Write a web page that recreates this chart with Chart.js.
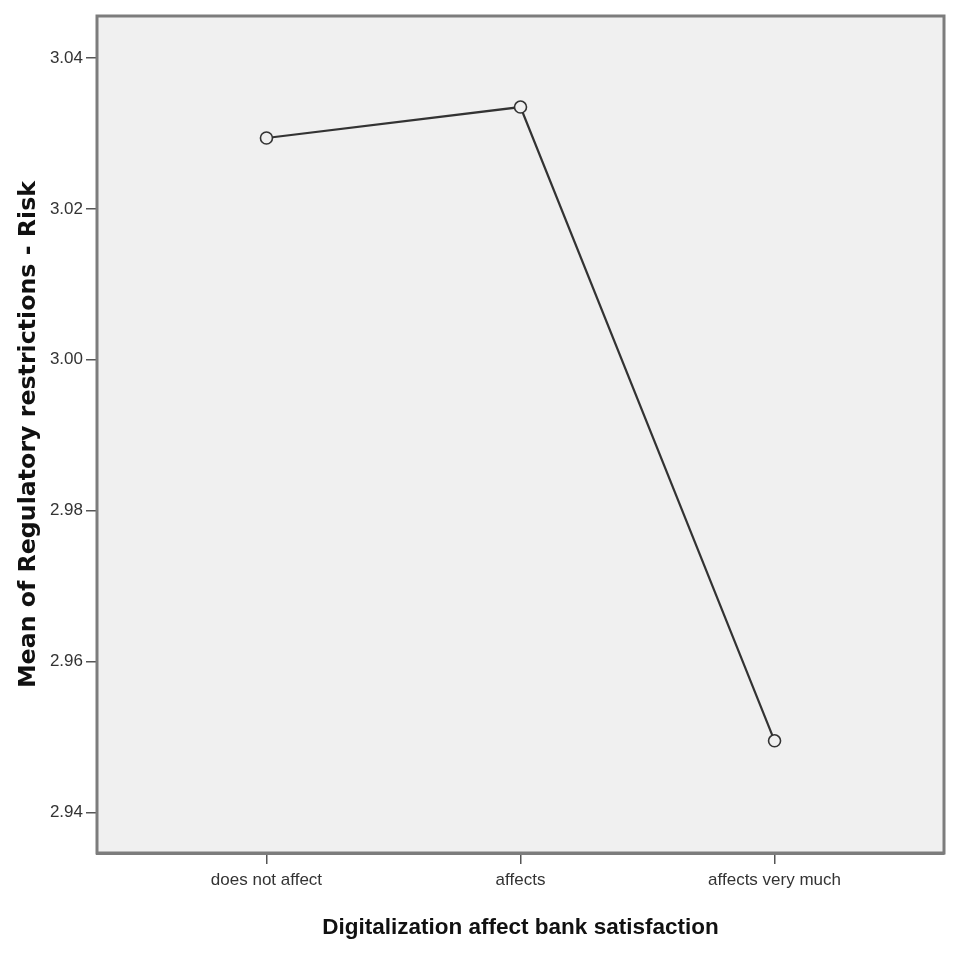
<!DOCTYPE html>
<html>
<head>
<meta charset="utf-8">
<script src="https://cdn.jsdelivr.net/npm/chart.js@4/dist/chart.umd.min.js"></script>
<style>
  html, body { margin: 0; padding: 0; background: #ffffff; }
  #wrap { width: 960px; height: 954px; position: relative; }
</style>
</head>
<body>
<div id="wrap"><canvas id="c" width="960" height="954"></canvas></div>
<script>
const categories = ["does not affect", "affects", "affects very much"];
const means = [3.0294, 3.0335, 2.9495];
const yTickValues = [2.94, 2.96, 2.98, 3.00, 3.02, 3.04];
const xTitle = "Digitalization affect bank satisfaction";
const yTitle = "Mean of Regulatory restrictions - Risk";

const points = means.map((v, i) => ({ x: i, y: v }));

const frame = {
  id: 'frame',
  beforeDatasetsDraw(chart) {
    const { ctx, chartArea: a } = chart;
    ctx.save();
    ctx.fillStyle = '#f0f0f0';
    ctx.fillRect(a.left, a.top, a.right - a.left, a.bottom - a.top);
    ctx.restore();
  },
  afterDraw(chart) {
    const { ctx, chartArea: a } = chart;
    ctx.save();
    ctx.strokeStyle = '#7c7c7c';
    ctx.lineWidth = 3;
    ctx.strokeRect(a.left, a.top, a.right - a.left, a.bottom - a.top);
    ctx.restore();
  }
};

const tickFont = { family: '"Liberation Sans", Arial, sans-serif', size: 17 };

new Chart(document.getElementById('c'), {
  type: 'line',
  data: {
    datasets: [{
      data: points,
      borderColor: '#333333',
      borderWidth: 2.2,
      tension: 0,
      fill: false,
      pointRadius: 6,
      pointBorderWidth: 1.6,
      pointBorderColor: '#333333',
      pointBackgroundColor: '#f0f0f0'
    }]
  },
  options: {
    responsive: false,
    animation: false,
    devicePixelRatio: 1,
    layout: { padding: { top: 16, right: 16, left: 0, bottom: 0 } },
    plugins: { legend: { display: false }, tooltip: { enabled: false } },
    scales: {
      x: {
        type: 'linear',
        min: -0.667,
        max: 2.667,
        afterBuildTicks(s) { s.ticks = categories.map((c, i) => ({ value: i })); },
        afterFit(s) { s.height = 101; },
        ticks: {
          autoSkip: false,
          maxRotation: 0,
          padding: 6,
          color: '#333333',
          font: tickFont,
          callback: (v) => categories[v] ?? ''
        },
        grid: { drawOnChartArea: false, drawTicks: true, tickLength: 11, color: '#555555', lineWidth: 1.5 },
        border: { display: true, color: '#7c7c7c', width: 3 },
        title: {
          display: true,
          text: xTitle,
          color: '#111111',
          padding: { top: 0, bottom: 13 },
          font: { family: '"Liberation Sans", Arial, sans-serif', size: 22.5, weight: 'bold' }
        }
      },
      y: {
        type: 'linear',
        min: 2.93463,
        max: 3.04557,
        afterBuildTicks(s) { s.ticks = yTickValues.map(v => ({ value: v })); },
        afterFit(s) { s.width = 97; },
        ticks: {
          padding: 3,
          color: '#333333',
          font: tickFont,
          callback: (v) => Number(v).toFixed(2)
        },
        grid: { drawOnChartArea: false, drawTicks: true, tickLength: 11, color: '#555555', lineWidth: 1.5 },
        border: { display: true, color: '#7c7c7c', width: 3 },
        title: {
          display: true,
          text: yTitle,
          color: '#111111',
          padding: { top: 15, bottom: 0 },
          font: { family: '"DejaVu Sans", Verdana, sans-serif', size: 23.7, weight: 'bold' }
        }
      }
    }
  },
  plugins: [frame]
});
</script>
</body>
</html>
